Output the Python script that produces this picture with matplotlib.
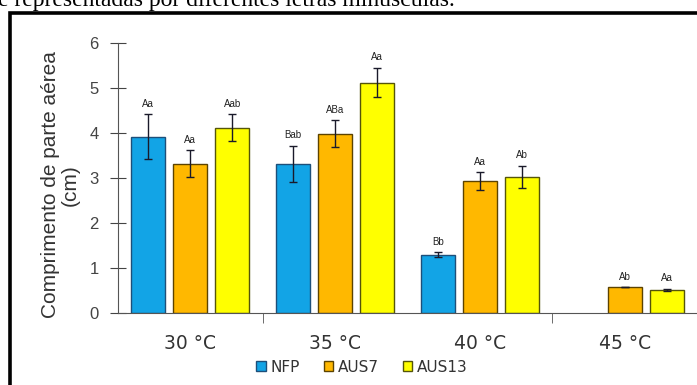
import numpy as np
import matplotlib.pyplot as plt
from matplotlib.patches import Rectangle

# mean shoot length (cm) and standard errors per temperature and strain
temps = ["30 °C", "35 °C", "40 °C", "45 °C"]
strains = ["NFP", "AUS7", "AUS13"]
nfp = [3.92, 3.32, 1.30, 0.0]
aus7 = [3.32, 3.98, 2.93, 0.58]
aus13 = [4.12, 5.12, 3.02, 0.51]
nfp_err = [0.50, 0.40, 0.05, 0.0]
aus7_err = [0.30, 0.30, 0.20, 0.0]
aus13_err = [0.30, 0.33, 0.25, 0.03]
nfp_lbl = ["Aa", "Bab", "Bb", ""]
aus7_lbl = ["Aa", "ABa", "Aa", "Ab"]
aus13_lbl = ["Aab", "Aa", "Ab", "Aa"]

colors = ["#12A4E6", "#FFB800", "#FFFF00"]
edges = ["#1d4f7a", "#5c4300", "#55550a"]

plt.rcParams['font.family'] = ['Liberation Sans', 'DejaVu Sans']

fig = plt.figure(figsize=(6.97, 3.85), dpi=100)
W, H = 697, 385

# caption line running off the top of the page
fig.text(-0.003, 1 - 6 / H, "e representadas por diferentes letras minúsculas.",
         family=['Liberation Serif', 'DejaVu Serif'], fontsize=17, va='baseline', ha='left')

# figure frame
fig.patches.append(Rectangle((9.5 / W, -0.1), 1.2, 1.1 - 13.5 / H, transform=fig.transFigure,
                             fill=False, edgecolor='black', lw=2.6))

ax = fig.add_axes([118 / W, 1 - 313 / H, (W - 118) / W, 270 / H])
x = np.arange(len(temps))
off = 0.29
width = 0.235

series = [(nfp, nfp_err, nfp_lbl), (aus7, aus7_err, aus7_lbl), (aus13, aus13_err, aus13_lbl)]
for i, (vals, errs, lbls) in enumerate(series):
    xs = x + (i - 1) * off
    show = [v > 0 for v in vals]
    ax.bar(xs[show], np.array(vals)[show], width, color=colors[i], edgecolor=edges[i],
           lw=1.0, label=strains[i], zorder=2)
    ax.errorbar(xs[show], np.array(vals)[show], yerr=np.array(errs)[show], fmt='none',
                ecolor='#1a1a2a', elinewidth=1.0, capsize=3, capthick=1.0, zorder=3)
    for xi, v, e, t in zip(xs, vals, errs, lbls):
        if t:
            ax.text(xi, v + e + 0.12, t, ha='center', va='bottom', fontsize=7, color='#222222')

ax.set_xlim(-0.5, 3.5)
ax.set_ylim(0, 6)
ax.set_yticks(range(7))
ax.set_xticks(x)
ax.set_xticklabels(temps, fontsize=13.5, color='#333333', family='DejaVu Sans')
ax.set_xticks([0.5, 2.5], minor=True)
ax.tick_params(axis='x', which='major', length=0, pad=15)
ax.tick_params(axis='x', which='minor', length=7, direction='out', color='#555555')
ax.tick_params(axis='y', length=12, direction='inout', labelsize=12, colors='#333333', pad=8)
ax.tick_params(axis='y', colors='#444444')
for s in ['top', 'right']:
    ax.spines[s].set_visible(False)
for s in ['left', 'bottom']:
    ax.spines[s].set_color('#555555')
ax.set_ylabel("Comprimento de parte aérea\n(cm)", fontsize=15, color='#333333',
              linespacing=1.05)
ax.yaxis.set_label_coords(-0.066, 0.474)
ax.patch.set_alpha(0)

leg = fig.legend(loc='center', bbox_to_anchor=(362 / W, 1 - 367 / H), ncol=3, frameon=False,
                 prop={'family': 'DejaVu Sans', 'size': 11}, handlelength=0.6,
                 handleheight=0.6, handletextpad=0.3, columnspacing=1.6)
for t in leg.get_texts():
    t.set_color('#333333')

fig.savefig("out.png", dpi=100)
